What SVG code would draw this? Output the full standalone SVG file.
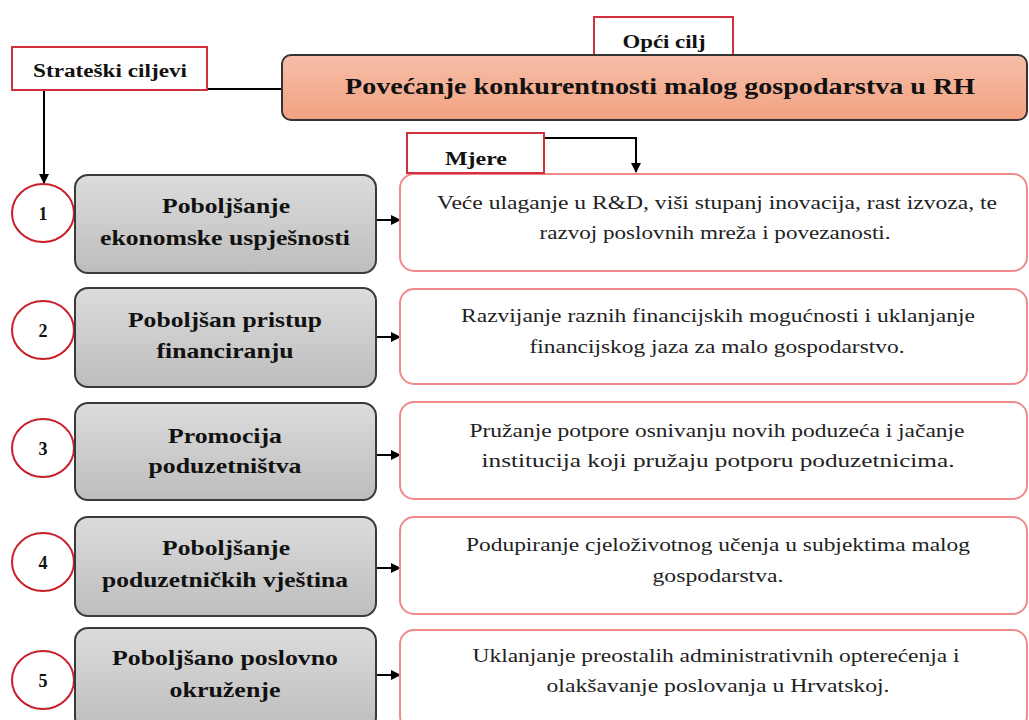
<svg xmlns="http://www.w3.org/2000/svg" width="1029" height="720" viewBox="0 0 1029 720">
<defs>
<linearGradient id="gGray" x1="0" y1="0" x2="0" y2="1"><stop offset="0" stop-color="#dcdcdc"/><stop offset="1" stop-color="#bdbdbd"/></linearGradient>
<linearGradient id="gPeach" x1="0" y1="0" x2="0" y2="1"><stop offset="0" stop-color="#f6bea9"/><stop offset="1" stop-color="#f2a281"/></linearGradient>
<marker id="arr" viewBox="0 0 10 10" refX="9" refY="5" markerWidth="10" markerHeight="10" markerUnits="userSpaceOnUse" orient="auto"><path d="M0,0 L10,5 L0,10 z" fill="#000"/></marker>
<style>
.lbl{fill:#fff;stroke:#d0303c;stroke-width:2}
.circ{fill:#fff;stroke:#c8202a;stroke-width:2}
.goal{fill:url(#gGray);stroke:#3a3a3a;stroke-width:2}
.meas{fill:#fff;stroke:#f08a8a;stroke-width:2}
.b{font-family:"Liberation Serif","Times New Roman",serif;font-weight:bold;fill:#111;text-anchor:middle}
.r{font-family:"Liberation Serif","Times New Roman",serif;fill:#222;text-anchor:middle;font-size:19px}
.con{stroke:#000;stroke-width:2;fill:none}
</style>
</defs>
<rect width="1029" height="720" fill="#fff"/>

<g id="connectors">
<line class="con" x1="130" y1="89" x2="282" y2="89"/>
<line class="con" x1="44" y1="90" x2="44" y2="183" marker-end="url(#arr)"/>
<polyline class="con" points="544,138 636,138 636,172" marker-end="url(#arr)"/>
<line class="con" x1="376" y1="220" x2="400" y2="220" marker-end="url(#arr)"/>
<line class="con" x1="376" y1="337" x2="400" y2="337" marker-end="url(#arr)"/>
<line class="con" x1="376" y1="455" x2="400" y2="455" marker-end="url(#arr)"/>
<line class="con" x1="376" y1="568" x2="400" y2="568" marker-end="url(#arr)"/>
<line class="con" x1="376" y1="675" x2="400" y2="675" marker-end="url(#arr)"/>
</g>

<g id="strateski">
<rect class="lbl" x="12" y="47" width="195" height="43"/>
<text class="b" x="110" y="77" font-size="18" textLength="154" lengthAdjust="spacingAndGlyphs">Strateški ciljevi</text>
</g>

<g id="opci">
<rect class="lbl" x="594" y="17" width="139" height="40"/>
<text class="b" x="664" y="48" font-size="18" textLength="83" lengthAdjust="spacingAndGlyphs">Opći cilj</text>
</g>

<g id="main">
<rect x="282" y="55" width="745" height="65" rx="9" fill="url(#gPeach)" stroke="#333" stroke-width="2"/>
<text class="b" x="660" y="94" font-size="23" textLength="630" lengthAdjust="spacingAndGlyphs">Povećanje konkurentnosti malog gospodarstva u RH</text>
</g>

<g id="m1">
<rect class="meas" x="400" y="174" width="627" height="97" rx="14"/>
<text class="r" x="717" y="209" textLength="560" lengthAdjust="spacingAndGlyphs">Veće ulaganje u R&amp;D, viši stupanj inovacija, rast izvoza, te</text>
<text class="r" x="715" y="239" textLength="351" lengthAdjust="spacingAndGlyphs">razvoj poslovnih mreža i povezanosti.</text>
</g>

<g id="mjere">
<rect class="lbl" x="407" y="133" width="137" height="40"/>
<text class="b" x="476" y="165" font-size="18" textLength="62" lengthAdjust="spacingAndGlyphs">Mjere</text>
</g>

<g id="m2">
<rect class="meas" x="400" y="289" width="627" height="95" rx="14"/>
<text class="r" x="718" y="322" textLength="514" lengthAdjust="spacingAndGlyphs">Razvijanje raznih financijskih mogućnosti i uklanjanje</text>
<text class="r" x="717" y="353" textLength="375" lengthAdjust="spacingAndGlyphs">financijskog jaza za malo gospodarstvo.</text>
</g>
<g id="m3">
<rect class="meas" x="400" y="402" width="627" height="97" rx="14"/>
<text class="r" x="717" y="437" textLength="495" lengthAdjust="spacingAndGlyphs">Pružanje potpore osnivanju novih poduzeća i jačanje</text>
<text class="r" x="718" y="467" textLength="473" lengthAdjust="spacingAndGlyphs">institucija koji pružaju potporu poduzetnicima.</text>
</g>
<g id="m4">
<rect class="meas" x="400" y="517" width="627" height="97" rx="14"/>
<text class="r" x="718" y="551" textLength="504" lengthAdjust="spacingAndGlyphs">Podupiranje cjeloživotnog učenja u subjektima malog</text>
<text class="r" x="718" y="582" textLength="131" lengthAdjust="spacingAndGlyphs">gospodarstva.</text>
</g>
<g id="m5">
<rect class="meas" x="400" y="630" width="627" height="100" rx="14"/>
<text class="r" x="716" y="662" textLength="487" lengthAdjust="spacingAndGlyphs">Uklanjanje preostalih administrativnih opterećenja i</text>
<text class="r" x="718" y="692" textLength="343" lengthAdjust="spacingAndGlyphs">olakšavanje poslovanja u Hrvatskoj.</text>
</g>

<g id="n1">
<ellipse class="circ" cx="43" cy="213" rx="31" ry="29"/>
<text class="b" x="43" y="220" font-size="18">1</text>
<rect class="goal" x="75" y="175" width="301" height="98" rx="13"/>
<text class="b" x="226" y="213" font-size="21" textLength="128" lengthAdjust="spacingAndGlyphs">Poboljšanje</text>
<text class="b" x="225" y="245" font-size="21" textLength="250" lengthAdjust="spacingAndGlyphs">ekonomske uspješnosti</text>
</g>
<g id="n2">
<ellipse class="circ" cx="43" cy="330" rx="31" ry="29"/>
<text class="b" x="43" y="337" font-size="18">2</text>
<rect class="goal" x="75" y="288" width="301" height="99" rx="13"/>
<text class="b" x="225" y="327" font-size="21" textLength="194" lengthAdjust="spacingAndGlyphs">Poboljšan pristup</text>
<text class="b" x="225" y="358" font-size="21" textLength="137" lengthAdjust="spacingAndGlyphs">financiranju</text>
</g>
<g id="n3">
<ellipse class="circ" cx="43" cy="448" rx="31" ry="29"/>
<text class="b" x="43" y="455" font-size="18">3</text>
<rect class="goal" x="75" y="403" width="301" height="97" rx="13"/>
<text class="b" x="225" y="443" font-size="21" textLength="114" lengthAdjust="spacingAndGlyphs">Promocija</text>
<text class="b" x="225" y="473" font-size="21" textLength="153" lengthAdjust="spacingAndGlyphs">poduzetništva</text>
</g>
<g id="n4">
<ellipse class="circ" cx="43" cy="562" rx="31" ry="29"/>
<text class="b" x="43" y="569" font-size="18">4</text>
<rect class="goal" x="75" y="517" width="301" height="99" rx="13"/>
<text class="b" x="226" y="555" font-size="21" textLength="128" lengthAdjust="spacingAndGlyphs">Poboljšanje</text>
<text class="b" x="225" y="587" font-size="21" textLength="246" lengthAdjust="spacingAndGlyphs">poduzetničkih vještina</text>
</g>
<g id="n5">
<ellipse class="circ" cx="43" cy="680" rx="31" ry="29"/>
<text class="b" x="43" y="687" font-size="18">5</text>
<rect class="goal" x="75" y="628" width="301" height="102" rx="13"/>
<text class="b" x="225" y="665" font-size="21" textLength="226" lengthAdjust="spacingAndGlyphs">Poboljšano poslovno</text>
<text class="b" x="225" y="697" font-size="21" textLength="111" lengthAdjust="spacingAndGlyphs">okruženje</text>
</g>
</svg>
